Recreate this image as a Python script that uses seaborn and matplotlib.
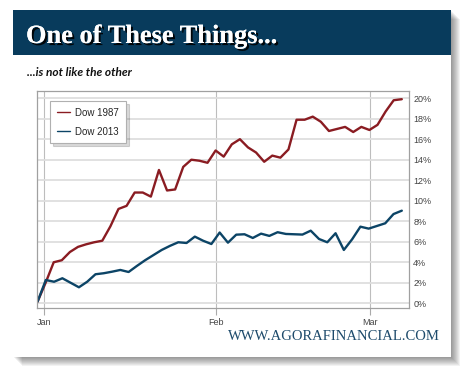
import numpy as np
import pandas as pd
import matplotlib
matplotlib.use('Agg')
import matplotlib.pyplot as plt
import matplotlib.patheffects as pe
from matplotlib.patches import Rectangle
from matplotlib.lines import Line2D
from matplotlib.ticker import FuncFormatter
import seaborn as sns

# % gain since the start of the year, one value per trading session
dow_1987 = [0.15, 2.0, 4.0, 4.2, 5.0, 5.5, 5.75, 5.95, 6.1, 7.5,
            9.2, 9.5, 10.8, 10.8, 10.4, 13.0, 11.0, 11.1, 13.3, 14.0,
            13.9, 13.7, 14.9, 14.3, 15.5, 16.0, 15.2, 14.7, 13.8, 14.4,
            14.2, 15.0, 17.9, 17.9, 18.2, 17.7, 16.8, 17.0, 17.2, 16.7,
            17.2, 16.9, 17.4, 18.7, 19.8, 19.9]
dow_2013 = [0.16, 2.27, 2.1, 2.44, 2.0, 1.56, 2.1, 2.83, 2.93, 3.08,
            3.25, 3.05, 3.64, 4.2, 4.7, 5.2, 5.6, 5.95, 5.88, 6.5,
            6.1, 5.78, 6.9, 5.91, 6.69, 6.73, 6.37, 6.79, 6.57, 6.93,
            6.76, 6.73, 6.7, 7.08, 6.27, 5.95, 6.83, 5.2, 6.24, 7.47,
            7.28, 7.54, 7.8, 8.7, 9.03]
series_names = ['Dow 1987', 'Dow 2013']
month_labels = ['Jan', 'Feb', 'Mar']
month_pos = [0.8, 21.6, 40.2]      # in 2013 session units
pct_ticks = list(range(0, 21, 2))

# 1987 had one more session over the same span, stretch it to the 2013 axis
x_2013 = np.arange(len(dow_2013))
x_1987 = np.arange(len(dow_1987)) * (len(dow_2013) - 1) / (len(dow_1987) - 1)

df = pd.concat([
    pd.DataFrame({'session': x_1987, 'gain': dow_1987, 'series': series_names[0]}),
    pd.DataFrame({'session': x_2013, 'gain': dow_2013, 'series': series_names[1]}),
])

red = '#8a1c22'
navy = '#0c4466'
header = '#083b5c'

sns.set_style('white')
W, H = 470, 378
fig = plt.figure(figsize=(W / 100, H / 100), dpi=100)
fig.patch.set_facecolor('white')


def box(x0, y0, x1, y1, **kw):
    fig.add_artist(Rectangle((x0 / W, 1 - y1 / H), (x1 - x0) / W, (y1 - y0) / H,
                             transform=fig.transFigure, lw=0, zorder=-5, **kw))


# soft drop shadow of the card
for k in range(1, 10):
    box(13 + k, 10 + k, 451 + k, 357 + k, facecolor='black', alpha=0.05)
box(13, 10, 451, 357, facecolor='white')
box(13, 10, 451, 55, facecolor=header)

fig.text(26 / W, 1 - 43 / H, 'One of These Things...', family='Liberation Serif',
         weight='bold', size=19, color='white', va='baseline',
         path_effects=[pe.withSimplePatchShadow(offset=(1.5, -1.5), shadow_rgbFace='black', alpha=0.9),
                       pe.Normal()])
fig.text(27 / W, 1 - 76 / H, '...is not like the other', family=['Lato', 'DejaVu Sans'],
         weight='bold', style='italic', size=8.6, color='#111111', va='baseline')
fig.text(440 / W, 1 - 340 / H, 'WWW.AGORAFINANCIAL.COM', family='Liberation Serif',
         size=10.5, color='#1d4a6b', ha='right', va='baseline')

ax = fig.add_axes([36.7 / W, 1 - 308 / H, (409 - 36.7) / W, (308 - 91) / H])
ax.set_zorder(5)
sns.lineplot(data=df, x='session', y='gain', hue='series',
             palette={series_names[0]: red, series_names[1]: navy},
             linewidth=1.7, ax=ax, legend=False)

ax.set_xlim(-0.1, 44.87)
ax.set_ylim(-0.46, 20.7)
ax.set_xlabel('')
ax.set_ylabel('')

ax.yaxis.tick_right()
ax.set_yticks(pct_ticks)
ax.yaxis.set_major_formatter(FuncFormatter(lambda v, _: f'{v:.0f}%'))
ax.set_xticks(month_pos, month_labels)
ax.tick_params(axis='y', length=0, pad=3, labelsize=6.5, labelcolor='#444444')
ax.tick_params(axis='x', bottom=True, length=5, color='#aaaaaa', width=0.8,
               direction='out', pad=2, labelsize=6.5, labelcolor='#444444')
for lbl in ax.get_xticklabels() + ax.get_yticklabels():
    lbl.set_family(['Liberation Sans', 'DejaVu Sans'])

ax.grid(axis='y', color='#dedede', lw=1.3)
ax.grid(axis='x', color='#bdbdbd', lw=0.8)
ax.set_axisbelow(True)
for sp in ax.spines.values():
    sp.set_visible(True)
    sp.set_color('#a0a0a0')
    sp.set_linewidth(0.9)

handles = [Line2D([], [], color=red, lw=1), Line2D([], [], color=navy, lw=1)]
leg = ax.legend(handles, series_names, loc='upper left', bbox_to_anchor=(0.036, 0.954),
                borderaxespad=0, handlelength=1.3, handletextpad=0.6,
                labelspacing=0.9, borderpad=0.7, fancybox=False, frameon=True,
                shadow={'color': 'black', 'alpha': 0.15, 'ox': 2, 'oy': -2},
                prop={'family': ['Liberation Sans', 'DejaVu Sans'], 'size': 7})
leg.get_frame().set_edgecolor('#b0b0b0')
leg.get_frame().set_linewidth(0.8)

fig.savefig('out.png', dpi=100)
